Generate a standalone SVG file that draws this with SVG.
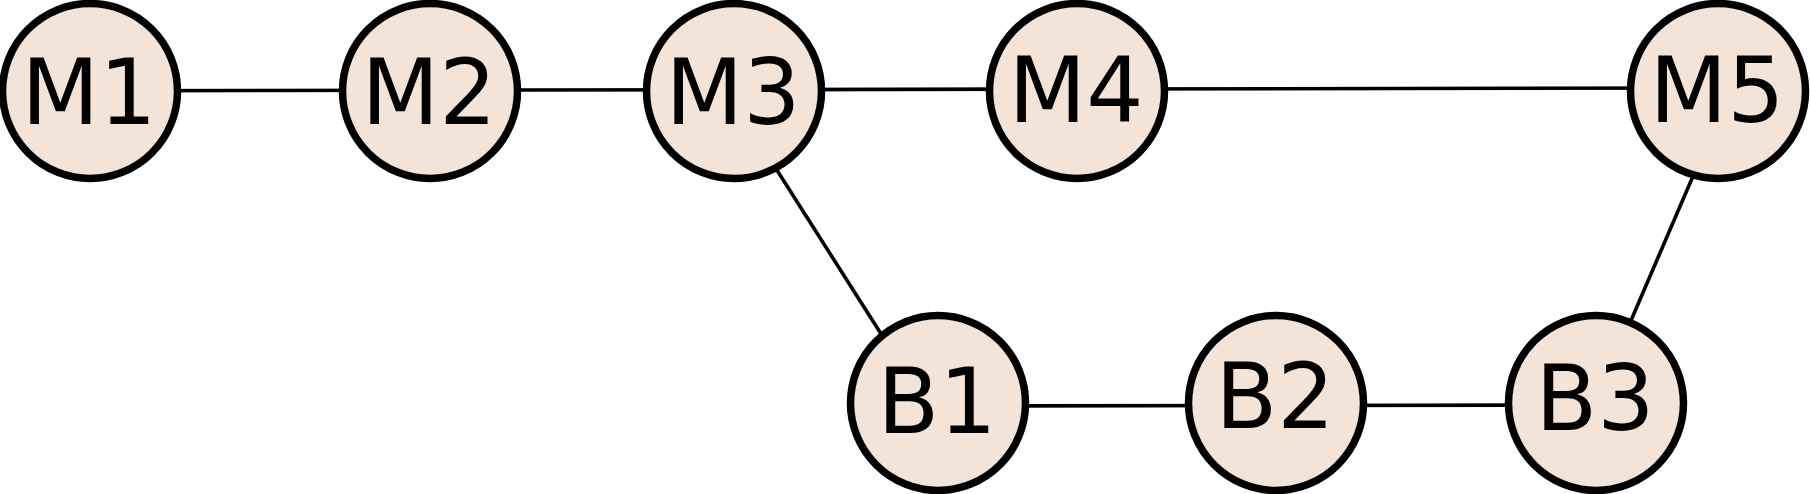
<svg xmlns="http://www.w3.org/2000/svg" width="1810" height="494" viewBox="0 0 1810 494">
<style>
.n circle{fill:#f4e3d7;stroke:#000;stroke-width:7.5}
.n text{font-family:"DejaVu Sans",sans-serif;font-size:90px;text-anchor:middle;fill:#000}
#edges line{stroke:#000;stroke-width:3.6}
</style>
<rect width="1810" height="494" fill="#fff"/>
<g id="edges">
<line x1="90" y1="90.7" x2="430" y2="90.2"/>
<line x1="430" y1="90.2" x2="734" y2="89.7"/>
<line x1="734" y1="89.7" x2="1077" y2="89"/>
<line x1="1077" y1="89" x2="1718" y2="88"/>
<line x1="726" y1="90" x2="925" y2="403"/>
<line x1="938" y1="406" x2="1276" y2="405.5"/>
<line x1="1276" y1="405.5" x2="1596" y2="405"/>
<line x1="1730" y1="90" x2="1596" y2="402"/>
</g>
<g id="M1" class="n"><circle cx="90" cy="91" r="87.5"/><text x="89" y="124">M1</text></g>
<g id="M2" class="n"><circle cx="430" cy="91" r="87.5"/><text x="429" y="124">M2</text></g>
<g id="M3" class="n"><circle cx="734" cy="91" r="87.5"/><text x="733" y="124">M3</text></g>
<g id="M4" class="n"><circle cx="1077" cy="91" r="87.5"/><text x="1076" y="122">M4</text></g>
<g id="M5" class="n"><circle cx="1718" cy="91" r="87.5"/><text x="1717" y="122">M5</text></g>
<g id="B1" class="n"><circle cx="938" cy="403" r="87.5"/><text x="937" y="433">B1</text></g>
<g id="B2" class="n"><circle cx="1276" cy="403" r="87.5"/><text x="1275" y="428">B2</text></g>
<g id="B3" class="n"><circle cx="1596" cy="403" r="87.5"/><text x="1595" y="430">B3</text></g>
</svg>
